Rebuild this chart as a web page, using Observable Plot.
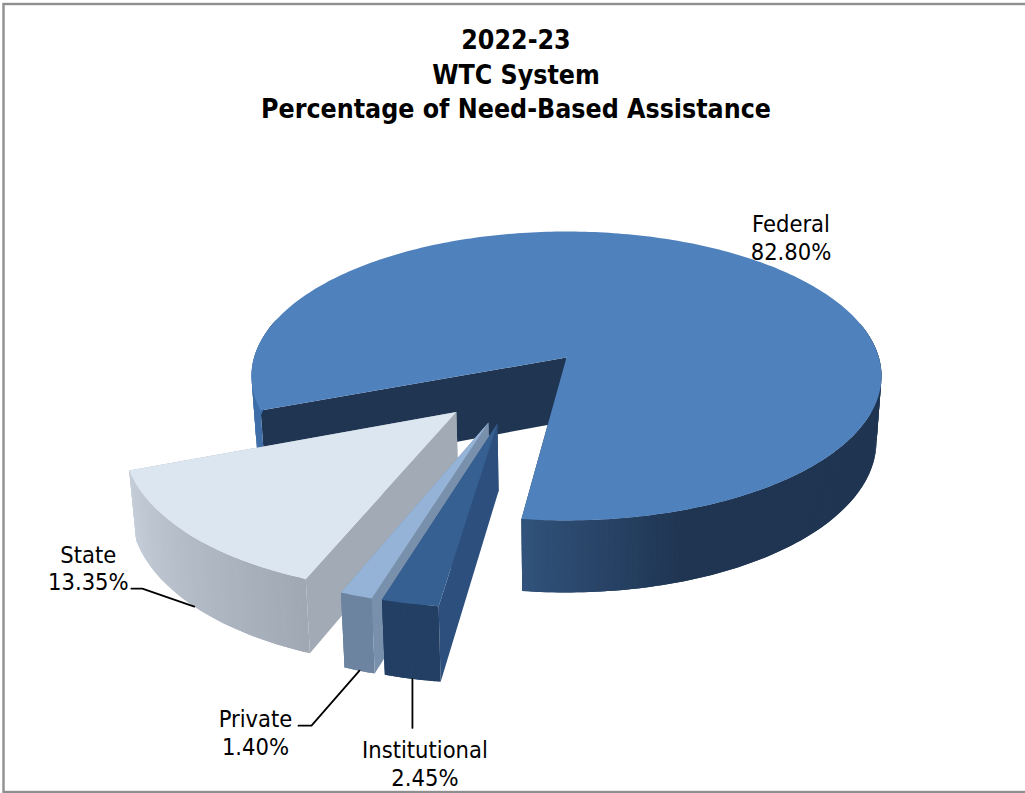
<!DOCTYPE html>
<html>
<head>
<meta charset="utf-8">
<script src="https://cdn.jsdelivr.net/npm/d3@7"></script>
<script src="https://cdn.jsdelivr.net/npm/@observablehq/plot@0.6"></script>
<style>
html,body{margin:0;padding:0;background:#fff}
svg{display:block}
</style>
</head>
<body>
<div id="chart"></div>
<script>
const titleLines = ["2022-23", "WTC System", "Percentage of Need-Based Assistance"];
const categories = ["Federal", "Institutional", "Private", "State"];
const shares = [82.80, 2.45, 1.40, 13.35];

// view of the pie plane
const W = 1025, H = 793;
const view = {cx: 566, cy: 357, A: 312.4, B: 142.1, k: 0.128, shrink: 0.984, d0: 64, d1: 8};
const startDeg = 69.15;
const paintOrder = ["Federal", "State", "Private", "Institutional"];
// explosion vector, leader and label offsets per category
const explode = {Federal: [0, 0], Institutional: [-0.2085, 0.438], Private: [-0.236, 0.432], State: [-0.336, 0.366]};
const leaders = {Federal: [], Institutional: [[0, 49]], Private: [[-48, 55], [-61, 55]], State: [[-52, -18], [-63, -18]]};
const labelShift = {Federal: [49, -19], Institutional: [12.5, 84], Private: [-104, 61], State: [-106, -39]};
const topColor = {Federal: "#4f81bd", Institutional: "#366092", Private: "#95b3d7", State: "#dce6f1"};
const faceColor = {Federal: "#1f3552", Institutional: "#2c4f7e", Private: "#7890ac", State: "#a2abb5"};
const wallColor = {
  Federal: t => t < 100 ? "#3f6fa9" : d3.interpolateRgb("#1f3552", "#31527a")(Math.max(0, Math.min(1, (t - 341) / 26))),
  Institutional: t => "#233f63",
  Private: t => "#6d84a1",
  State: t => d3.interpolateRgb("#a0a8b3", "#c5ced9")((t % 360 - 21) / 48)
};

const project = ([u, v]) => {
  const w = 1 - view.k * v;
  return [view.cx + view.A * u / w, view.cy + view.B * v / w, v];
};
const lower = ([x, y, v]) => [view.cx + view.shrink * (x - view.cx), y + view.d0 + view.d1 * v];
const rim = (deg, off) => [off[0] - Math.sin(deg * Math.PI / 180), off[1] + Math.cos(deg * Math.PI / 180)];

const arcs = d3.pie().sort(null).startAngle(startDeg * Math.PI / 180).endAngle((startDeg + 360) * Math.PI / 180)(shares);

const polys = [];
let pid = 0;
const addPoly = (pts, color) => { const id = pid++; pts.forEach(p => polys.push({id, x: p[0], y: p[1], color})); };

paintOrder.forEach(name => {
  const i = categories.indexOf(name);
  const off = explode[name];
  const a0 = arcs[i].startAngle * 180 / Math.PI, a1 = arcs[i].endAngle * 180 / Math.PI;
  const apex = project(off);
  const n = Math.ceil(a1 - a0);
  const angs = d3.range(n + 1).map(j => a0 + (a1 - a0) * j / n);
  const top = angs.map(t => project(rim(t, off)));
  // cut faces
  [[a1, top[n]], [a0, top[0]]].forEach(([t, corner]) => addPoly([apex, corner, lower(corner), lower(apex)], faceColor[name]));
  // outer wall strips, each one overlapping the next so no seam shows
  for (let j = 0; j < n; j++) {
    if (Math.cos(angs[j] * Math.PI / 180) < -0.25) continue;
    const e = Math.min(j + 2, n);
    const span = d3.range(j, e + 1).map(m => top[m]);
    addPoly([...span, ...span.map(lower).reverse()], wallColor[name]((angs[j] + angs[j + 1]) / 2));
  }
  // top
  addPoly([apex, ...top], topColor[name]);
});

const rimPoint = name => {
  const i = categories.indexOf(name);
  const mid = (arcs[i].startAngle + arcs[i].endAngle) * 90 / Math.PI;
  const p = project(rim(mid, explode[name]));
  return name === "Federal" ? p : lower(p);
};

const leaderRows = categories.flatMap(name => {
  if (!leaders[name].length) return [];
  const p = rimPoint(name);
  return [[0, 0], ...leaders[name]].map(o => ({name, x: p[0] + o[0], y: p[1] + o[1]}));
});
const labelRows = categories.map((name, i) => {
  const p = rimPoint(name);
  return {x: p[0] + labelShift[name][0], y: p[1] + labelShift[name][1], text: name + "\n" + shares[i].toFixed(2) + "%"};
});

const FONT = "'DejaVu Sans Condensed','DejaVu Sans'";
const chart = Plot.plot({
  width: W, height: H, margin: 0,
  x: {domain: [0, W], range: [0, W], axis: null},
  y: {domain: [0, H], range: [0, H], axis: null},
  marks: [
    Plot.frame({stroke: "#8f8f8f", strokeWidth: 2.4, insetTop: 3.5, insetLeft: 3, insetRight: -4, insetBottom: 1.5}),
    Plot.line(polys, {x: "x", y: "y", z: "id", fill: "color", stroke: "none", curve: "linear"}),
    Plot.line(leaderRows, {x: "x", y: "y", z: "name", stroke: "#000", strokeWidth: 1.8, curve: "linear"}),
    Plot.text(labelRows, {x: "x", y: "y", text: "text", fontSize: 23.5, lineHeight: 1.19, fill: "#000", fontFamily: FONT, textAnchor: "middle"}),
    Plot.text([titleLines.join("\n")], {frameAnchor: "top", text: d => d, dx: 3, dy: 24.5, fontSize: 26.5, fontWeight: "bold", lineHeight: 1.3, fill: "#000", fontFamily: FONT})
  ]
});
document.getElementById("chart").append(chart);
</script>
</body>
</html>
